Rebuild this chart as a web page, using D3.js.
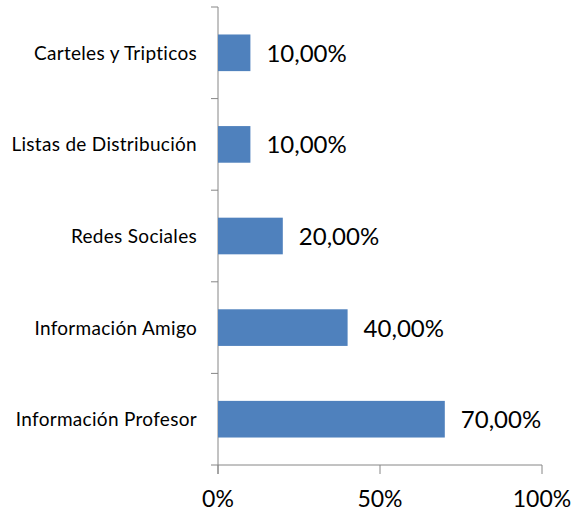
<!DOCTYPE html>
<html><head><meta charset="utf-8">
<script src="https://cdn.jsdelivr.net/npm/d3@7"></script>
<style>body{margin:0;background:#fff}svg{display:block}text{font-variant-ligatures:none}</style>
</head><body>
<script>
const categories = ["Carteles y Tripticos","Listas de Distribución","Redes Sociales","Información Amigo","Información Profesor"];
const values = [10,10,20,40,70];
const tickValues = [0,50,100];
const tickLabels = ["0%","50%","100%"];

const W=585,H=515;
const svg=d3.select("body").append("svg").attr("width",W).attr("height",H);
const font="Lato, 'Open Sans', sans-serif";
const x=d3.scaleLinear().domain([0,100]).range([218,542]);
const y=d3.scaleBand().domain(categories).range([7,465]).paddingInner(0.6).paddingOuter(0.3);
const yb=d3.scaleBand().domain(categories).range([7,465]);

const axisColor="#868686";
svg.append("line").attr("x1",x(0)).attr("x2",x(0)).attr("y1",7).attr("y2",474).attr("stroke",axisColor).attr("stroke-width",1);
const bounds=categories.map(c=>yb(c)).concat([465]);
svg.selectAll(".yt").data(bounds).enter().append("line")
 .attr("x1",x(0)-7).attr("x2",x(0)).attr("y1",d=>d).attr("y2",d=>d).attr("stroke",axisColor);
svg.append("line").attr("x1",x(0)).attr("x2",x(100)).attr("y1",465).attr("y2",465).attr("stroke",axisColor);
svg.selectAll(".xt").data(tickValues).enter().append("line")
 .attr("x1",d=>x(d)).attr("x2",d=>x(d)).attr("y1",465).attr("y2",474).attr("stroke",axisColor);
svg.selectAll(".xl").data(tickValues).enter().append("text")
 .attr("x",d=>x(d)).attr("y",507).attr("text-anchor","middle")
 .attr("font-family",font).attr("font-size",23).attr("fill","#000")
 .text((d,i)=>tickLabels[i]);

svg.selectAll(".bar").data(categories).enter().append("rect")
 .attr("x",x(0)).attr("y",c=>y(c)).attr("height",y.bandwidth())
 .attr("width",(c,i)=>x(values[i])-x(0)).attr("fill","#4F81BD");
svg.selectAll(".vl").data(categories).enter().append("text")
 .attr("x",(c,i)=>x(values[i])+16).attr("y",c=>y(c)+y.bandwidth()/2+9)
 .attr("font-family",font).attr("font-size",24).attr("fill","#000")
 .text((c,i)=>values[i].toFixed(2).replace(".",",")+"%");
svg.selectAll(".cl").data(categories).enter().append("text")
 .attr("x",197).attr("y",c=>yb(c)+yb.bandwidth()/2+7)
 .attr("text-anchor","end").attr("font-family",font).attr("font-size",19)
 .attr("letter-spacing",0.3).attr("fill","#000")
 .text(c=>c);
</script>
</body></html>
